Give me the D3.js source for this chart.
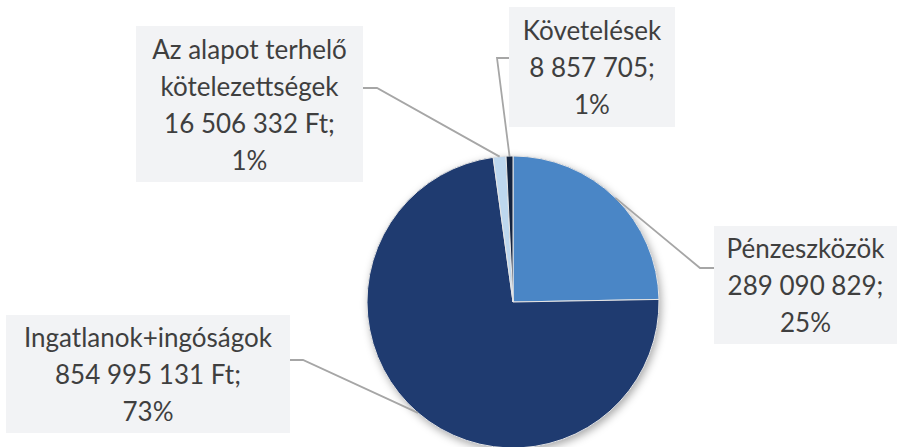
<!DOCTYPE html>
<html>
<head>
<meta charset="utf-8">
<script src="https://cdn.jsdelivr.net/npm/d3@7/dist/d3.min.js"></script>
<style>
  body { margin: 0; background: #fff; }
  svg { display: block; }
  text { font-family: Lato, "Open Sans", sans-serif; fill: #3f3f3f; }
</style>
</head>
<body>
<div id="chart"></div>
<script>
// Data
const categories = ["Pénzeszközök", "Ingatlanok+ingóságok", "Az alapot terhelő kötelezettségek", "Követelések"];
const nameLines = [["Pénzeszközök"], ["Ingatlanok+ingóságok"], ["Az alapot terhelő", "kötelezettségek"], ["Követelések"]];
const values = [289090829, 854995131, 16506332, 8857705];
const units = ["", " Ft", " Ft", ""];
const colors = ["#4a86c6", "#1f3b70", "#bdd7ee", "#13233f"];

// Dimensions
const dimensions = { width: 897, height: 447, cx: 513, cy: 302, radius: 146 };

// label boxes: x, y, w, h, and leader line start + elbow
const labelLayout = [
    { box: [714, 226, 183, 118], start: [714, 268], elbow: [700, 268] },
    { box: [6, 315, 284, 118], start: [290, 360], elbow: [303, 360] },
    { box: [136, 26, 227, 156], start: [363, 88], elbow: [377, 88] },
    { box: [509, 7, 166, 120], start: [509, 58], elbow: [497, 58] }
];

const svg = d3.select("#chart")
    .append("svg")
    .attr("width", dimensions.width)
    .attr("height", dimensions.height);

const defs = svg.append("defs");
const shadow = defs.append("filter")
    .attr("id", "shadow")
    .attr("x", "-20%").attr("y", "-20%")
    .attr("width", "140%").attr("height", "140%");
shadow.append("feDropShadow")
    .attr("dx", 2).attr("dy", 3)
    .attr("stdDeviation", 4)
    .attr("flood-color", "#000")
    .attr("flood-opacity", 0.35);

const total = d3.sum(values);
const locale = d3.formatLocale({ decimal: ",", thousands: " ", grouping: [3], currency: ["", " Ft"] });
const numFormat = locale.format(",d");
const pctFormat = d3.format(".0%");

const pie = d3.pie().sort(null).value(d => d.value);
const data = categories.map((c, i) => ({ name: c, lines: nameLines[i], value: values[i], unit: units[i], color: colors[i], i }));
const arcs = pie(data);

const arc = d3.arc().innerRadius(0).outerRadius(dimensions.radius);
const edgeArc = d3.arc().innerRadius(dimensions.radius).outerRadius(dimensions.radius);

const pieGroup = svg.append("g")
    .attr("transform", `translate(${dimensions.cx}, ${dimensions.cy})`);

// shadow base
pieGroup.append("circle")
    .attr("r", dimensions.radius)
    .attr("fill", "#1f3b70")
    .attr("filter", "url(#shadow)");

pieGroup.selectAll("path.slice")
    .data(arcs)
    .join("path")
    .attr("class", "slice")
    .attr("d", arc)
    .attr("fill", d => d.data.color)
    .attr("stroke", "#e6e6e6")
    .attr("stroke-width", 1);

// Labels
const labels = svg.selectAll("g.label")
    .data(arcs)
    .join("g")
    .attr("class", "label");

labels.append("path")
    .attr("fill", "none")
    .attr("stroke", "#a6a6a6")
    .attr("stroke-width", 1.8)
    .attr("d", d => {
        const l = labelLayout[d.data.i];
        const [ex, ey] = edgeArc.centroid(d);
        return d3.line()([l.start, l.elbow, [dimensions.cx + ex, dimensions.cy + ey]]);
    });

labels.append("rect")
    .attr("x", d => labelLayout[d.data.i].box[0])
    .attr("y", d => labelLayout[d.data.i].box[1])
    .attr("width", d => labelLayout[d.data.i].box[2])
    .attr("height", d => labelLayout[d.data.i].box[3])
    .attr("fill", "#f2f3f5");

const lineHeight = 37;
labels.each(function(d) {
    const l = labelLayout[d.data.i];
    const lines = d.data.lines.concat([
        numFormat(d.data.value) + d.data.unit + ";",
        pctFormat(d.data.value / total)
    ]);
    const cx = l.box[0] + l.box[2] / 2;
    const cy = l.box[1] + l.box[3] / 2 + 1;
    const top = cy - (lines.length - 1) * lineHeight / 2;
    d3.select(this).selectAll("text")
        .data(lines)
        .join("text")
        .attr("x", cx)
        .attr("y", (t, j) => top + j * lineHeight)
        .attr("dy", "0.35em")
        .attr("text-anchor", "middle")
        .style("font-size", "26px")
        .text(t => t);
});
</script>
</body>
</html>
